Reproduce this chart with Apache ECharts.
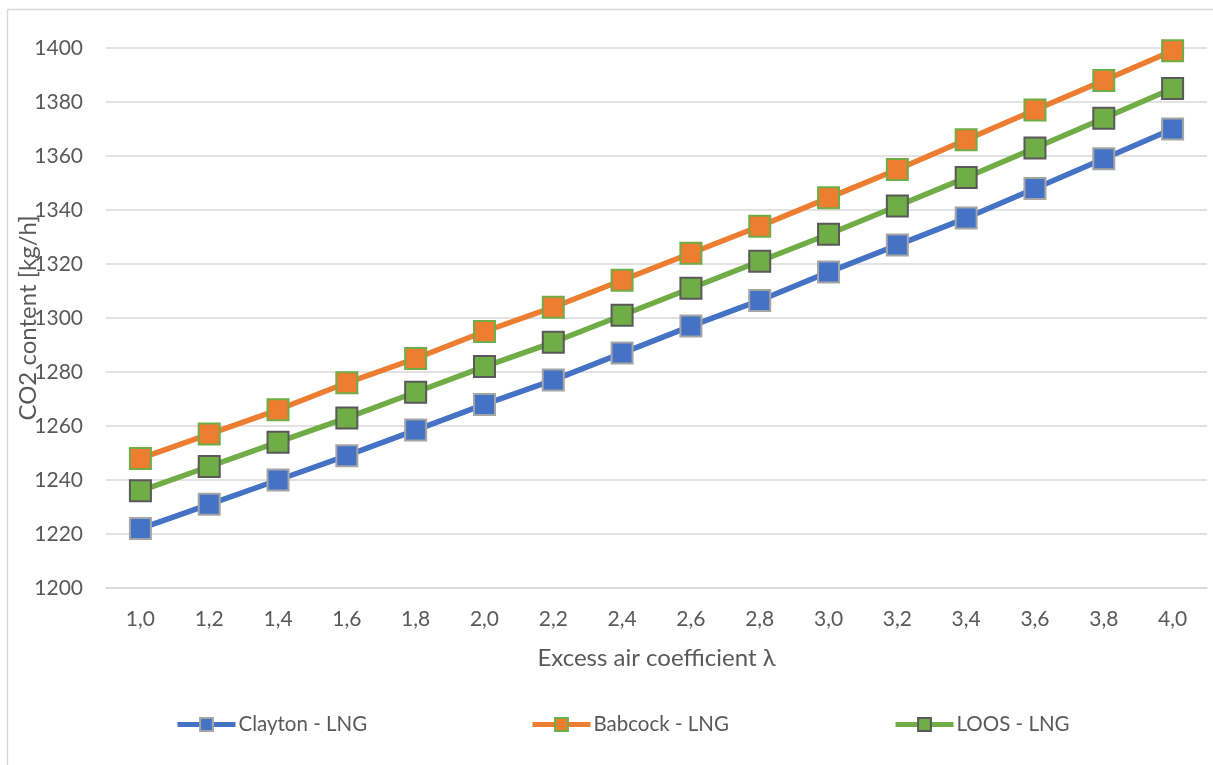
<!DOCTYPE html>
<html>
<head>
<meta charset="utf-8">
<script src="https://cdn.jsdelivr.net/npm/echarts@6/dist/echarts.min.js"></script>
<style>
html,body{margin:0;padding:0;background:#fff;}
#c{width:1213px;height:765px;}
</style>
</head>
<body>
<div id="c"></div>
<script>
const categories = ['1,0','1,2','1,4','1,6','1,8','2,0','2,2','2,4','2,6','2,8','3,0','3,2','3,4','3,6','3,8','4,0'];
const clayton = [1222,1231,1240,1249,1258.5,1268,1277,1287,1297,1306.5,1317,1327,1337,1348,1359,1370];
const babcock = [1248,1257,1266,1276,1285,1295,1304,1314,1324,1334,1344.5,1355,1366,1377,1388,1399];
const loos = [1236,1245,1254,1263,1272.5,1282,1291,1301,1311,1321,1331,1341.5,1352,1363,1374,1385];
const seriesNames = ['Clayton - LNG','Babcock - LNG','LOOS - LNG'];
const yMin = 1200, yMax = 1400, yStep = 20;

const FONT = 'Lato';
const TXT = '#595959';
const lineColors = ['#4472c4','#ed7d31','#70ad47'];
const markerBorders = ['#a5a5a5','#70ad47','#595959'];
const dataSets = [clayton, babcock, loos];
const legendLefts = [170, 525, 888];

const chart = echarts.init(document.getElementById('c'));
chart.setOption({
  backgroundColor: '#fff',
  animation: false,
  graphic: [{
    type: 'rect',
    shape: {x: 7.5, y: 9.5, width: 1250, height: 800},
    style: {fill: 'none', stroke: '#d9d9d9', lineWidth: 1.5},
    silent: true
  }],
  grid: {left: 106, right: 6, top: 48, bottom: 177, containLabel: false, outerBoundsMode: 'none'},
  legend: seriesNames.map((n, i) => ({
    data: [n],
    left: legendLefts[i],
    top: 709,
    itemWidth: 58,
    itemHeight: 16,
    lineStyle: {width: 5},
    textStyle: {fontFamily: FONT, fontSize: 20.5, color: TXT, padding: [0,0,0,-2]},
    selectedMode: false
  })),
  xAxis: {
    type: 'category',
    data: categories,
    boundaryGap: true,
    name: 'Excess air coefficient λ',
    nameLocation: 'middle',
    nameGap: 58,
    nameMoveOverlap: false,
    nameTextStyle: {fontFamily: FONT, fontSize: 24, color: TXT},
    axisLine: {show: true, lineStyle: {color: '#d9d9d9', width: 1.5}},
    axisTick: {show: false},
    axisLabel: {fontFamily: FONT, fontSize: 21, color: TXT, margin: 21}
  },
  yAxis: {
    type: 'value',
    min: yMin, max: yMax, interval: yStep,
    name: 'CO2 content [kg/h]',
    nameLocation: 'middle',
    nameGap: 66,
    nameMoveOverlap: false,
    nameTextStyle: {fontFamily: FONT, fontSize: 24, color: TXT},
    axisLine: {show: false},
    axisTick: {show: false},
    splitLine: {lineStyle: {color: '#d9d9d9', width: 1.5}},
    axisLabel: {fontFamily: FONT, fontSize: 21, color: TXT, margin: 23, formatter: v => String(v)}
  },
  series: seriesNames.map((n, i) => ({
    name: n,
    type: 'line',
    data: dataSets[i],
    symbol: 'rect',
    symbolSize: 21,
    lineStyle: {color: lineColors[i], width: 5.5},
    itemStyle: {color: lineColors[i], borderColor: markerBorders[i], borderWidth: 2},
    z: 2 + i
  }))
});
</script>
</body>
</html>
